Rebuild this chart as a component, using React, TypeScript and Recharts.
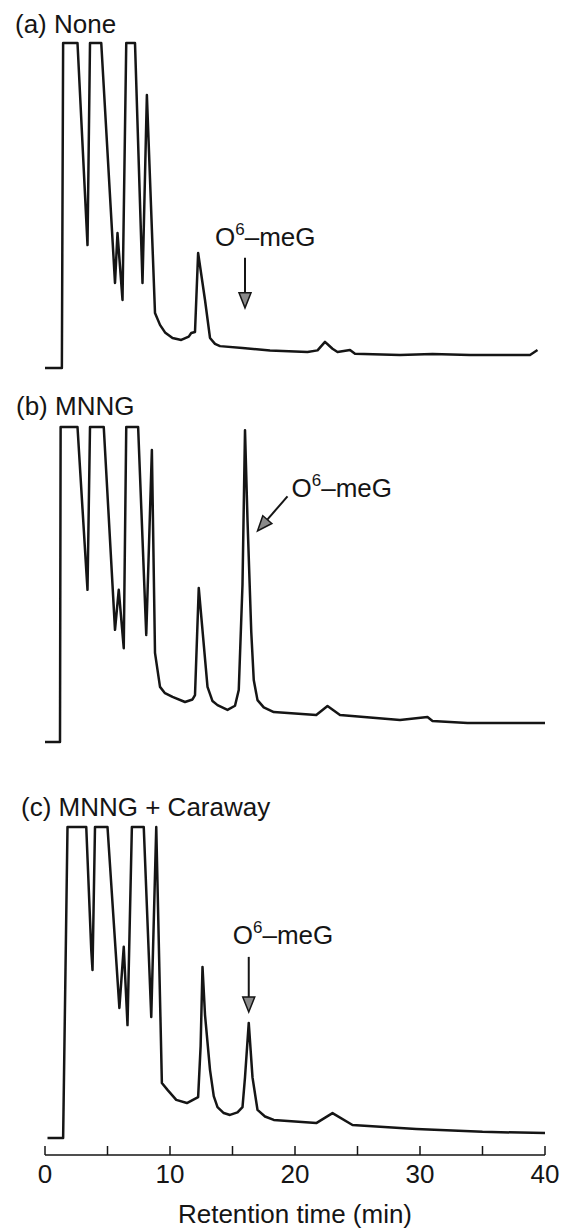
import React from "react";
import { LineChart, Line, XAxis, YAxis, ReferenceLine } from "recharts";

// retention time (min) and detector signal (% of full scale)
const timeA = [0, 1.35, 1.45, 2.6, 3.4, 3.6, 4.5, 5.6, 5.8, 6.2, 6.5, 7.2, 7.8, 8.15, 8.8, 9.2, 9.6, 10.2, 10.9, 11.5, 11.7, 12.0, 12.25, 12.8, 13.2, 13.6, 14.0, 15.8, 18.0, 21.0, 21.8, 22.4, 23.0, 23.4, 24.4, 24.8, 28.4, 31.0, 34.0, 38.8, 39.4];
const signalA = [0.6, 0.6, 100, 100, 38.2, 100, 100, 26.6, 41.9, 21.4, 100, 100, 26.6, 84.1, 17.4, 13.8, 11.5, 9.8, 9.2, 10.2, 11.3, 11.6, 35.8, 21.4, 9.8, 8.0, 7.3, 6.7, 6.0, 5.5, 6.0, 8.6, 6.5, 5.5, 6.1, 5.0, 4.6, 4.9, 4.6, 4.6, 6.1];

const timeB = [0, 1.2, 1.25, 2.6, 3.3, 3.4, 3.6, 4.7, 5.6, 5.9, 6.3, 6.5, 7.45, 8.1, 8.55, 8.8, 9.2, 9.6, 10.2, 11.2, 11.8, 12.0, 12.3, 13.0, 13.4, 13.8, 14.6, 15.2, 15.5, 15.8, 16.0, 16.2, 16.5, 16.7, 17.0, 17.5, 18.3, 21.7, 22.6, 23.6, 28.4, 30.6, 31.0, 33.8, 40];
const signalB = [0, 0, 100, 100, 54.6, 48.3, 100, 100, 35.6, 48.3, 29.8, 100, 100, 34.0, 92.7, 28.3, 17.5, 15.5, 14.3, 12.7, 13.5, 14.9, 48.9, 17.5, 13.0, 11.7, 10.2, 11.5, 16.5, 50, 99, 70.5, 35, 19.7, 13.3, 11.0, 9.5, 8.6, 11.4, 8.6, 7.0, 7.9, 6.7, 6.0, 6.0];

const timeC = [0.2, 1.45, 1.8, 3.3, 3.7, 3.8, 4.0, 5.0, 5.95, 6.3, 6.6, 6.95, 7.9, 8.5, 8.9, 9.35, 9.8, 10.5, 11.35, 12.25, 12.45, 12.6, 12.8, 13.2, 13.5, 13.8, 14.3, 14.8, 15.4, 15.8, 16.0, 16.3, 16.6, 17.0, 17.6, 18.3, 21.7, 23.0, 24.6, 28.4, 29.7, 35.0, 40];
const signalC = [0.6, 0.6, 100, 100, 60.7, 54.3, 100, 100, 42.2, 61.7, 36.7, 100, 100, 39.3, 100, 18.2, 16.0, 12.8, 11.8, 13.7, 30, 55.3, 40, 22.4, 14, 10.5, 8.6, 8.0, 8.8, 10.5, 20, 37.4, 20, 9.6, 7.5, 6.4, 5.4, 8.6, 4.8, 3.8, 3.5, 2.6, 2.2];

const panelLabels = ["(a) None", "(b) MNNG", "(c) MNNG + Caraway"];
const peakName = "meG";
const axisTicks = [0, 5, 10, 15, 20, 25, 30, 35, 40];
const tickLabels = [0, 10, 20, 30, 40];

// arrow start / end in (min, signal) for the O6-meG marker of each panel
const arrowA = [{ x: 16, y: 34.3 }, { x: 16, y: 19 }];
const arrowB = [{ x: 19.4, y: 78 }, { x: 17.0, y: 67 }];
const arrowC = [{ x: 16.3, y: 58.5 }, { x: 16.3, y: 40.9 }];

const zip = (t: number[], v: number[]) => t.map((time, i) => ({ time, signal: v[i] }));

const font = "'Liberation Sans', Arial, Helvetica, sans-serif";
const ink = "#151515";

function arrowShape(dx: number, dy: number) {
  return (p: any) => {
    const { x1, y1, x2, y2 } = p;
    const len = Math.hypot(x2 - x1, y2 - y1);
    const ux = (x2 - x1) / len;
    const uy = (y2 - y1) / len;
    const head = 15;
    const half = 6;
    const bx = x2 - ux * head;
    const by = y2 - uy * head;
    const pts = `${x2},${y2} ${bx - uy * half},${by + ux * half} ${bx + uy * half},${by - ux * half}`;
    return (
      <g>
        <line x1={x1} y1={y1} x2={bx} y2={by} stroke={ink} strokeWidth={2} />
        <polygon points={pts} fill="#8a8a8a" stroke={ink} strokeWidth={1.5} />
        <text x={x1 + dx} y={y1 + dy} fontSize={26} fill={ink} fontFamily={font}>
          O
          <tspan dy={-11} fontSize={17}>6</tspan>
          <tspan dy={11}>–{peakName}</tspan>
        </text>
      </g>
    );
  };
}

function AxisTick(props: any) {
  const { x, y, payload } = props;
  const show = tickLabels.includes(payload.value);
  return (
    <g>
      <line x1={x} y1={y} x2={x} y2={y - 9} stroke={ink} strokeWidth={1.5} />
      {show && (
        <text x={x} y={y + 28} textAnchor="middle" fontSize={26} fill={ink} fontFamily={font}>
          {payload.value}
        </text>
      )}
    </g>
  );
}

function Trace({
  top,
  plotHeight,
  data,
  arrow,
  dx,
  dy,
  yMin = 0,
  withAxis = false,
}: {
  top: number;
  plotHeight: number;
  data: { time: number; signal: number }[];
  arrow: { x: number; y: number }[];
  dx: number;
  dy: number;
  yMin?: number;
  withAxis?: boolean;
}) {
  const axisH = withAxis ? 73 : 0;
  const margin = { top: 10, right: 23, left: 45, bottom: withAxis ? 0 : 10 };
  return (
    <div style={{ position: "absolute", left: 0, top: top - 10 }}>
      <LineChart width={568} height={plotHeight + 10 + (withAxis ? axisH : 10)} data={data} margin={margin}>
        <XAxis
          dataKey="time"
          type="number"
          domain={[0, 40]}
          ticks={axisTicks}
          interval={0}
          hide={!withAxis}
          height={axisH}
          tickSize={0}
          tickMargin={0}
          tickLine={false}
          axisLine={{ stroke: ink, strokeWidth: 1.5 }}
          tick={<AxisTick />}
          label={{
            value: "Retention time (min)",
            position: "insideBottom",
            offset: 5,
            fontSize: 26,
            fill: ink,
            fontFamily: font,
          }}
        />
        <YAxis type="number" domain={[yMin, 100]} hide />
        <ReferenceLine segment={arrow} ifOverflow="visible" shape={arrowShape(dx, dy)} />
        <Line
          dataKey="signal"
          type="linear"
          stroke={ink}
          strokeWidth={2.5}
          strokeLinejoin="round"
          dot={false}
          isAnimationActive={false}
        />
      </LineChart>
    </div>
  );
}

export default function App() {
  const labelStyle = (left: number, top: number): React.CSSProperties => ({
    position: "absolute",
    left,
    top,
    fontFamily: font,
    fontSize: 26,
    lineHeight: "26px",
    color: ink,
    whiteSpace: "nowrap",
  });
  return (
    <div
      style={{
        position: "absolute",
        left: 0,
        top: 0,
        width: 568,
        height: 1228,
        background: "#fff",
        fontFamily: font,
      }}
    >
      <Trace top={43} plotHeight={327} data={zip(timeA, signalA)} arrow={arrowA} dx={-30} dy={-12} />
      <Trace top={427} plotHeight={315} data={zip(timeB, signalB)} arrow={arrowB} dx={4} dy={1} />
      <Trace
        top={827}
        plotHeight={328}
        data={zip(timeC, signalC)}
        arrow={arrowC}
        dx={-16}
        dy={-13}
        yMin={-4.8}
        withAxis
      />
      <div style={labelStyle(15, 11)}>{panelLabels[0]}</div>
      <div style={labelStyle(16, 393)}>{panelLabels[1]}</div>
      <div style={labelStyle(21, 794)}>{panelLabels[2]}</div>
    </div>
  );
}
